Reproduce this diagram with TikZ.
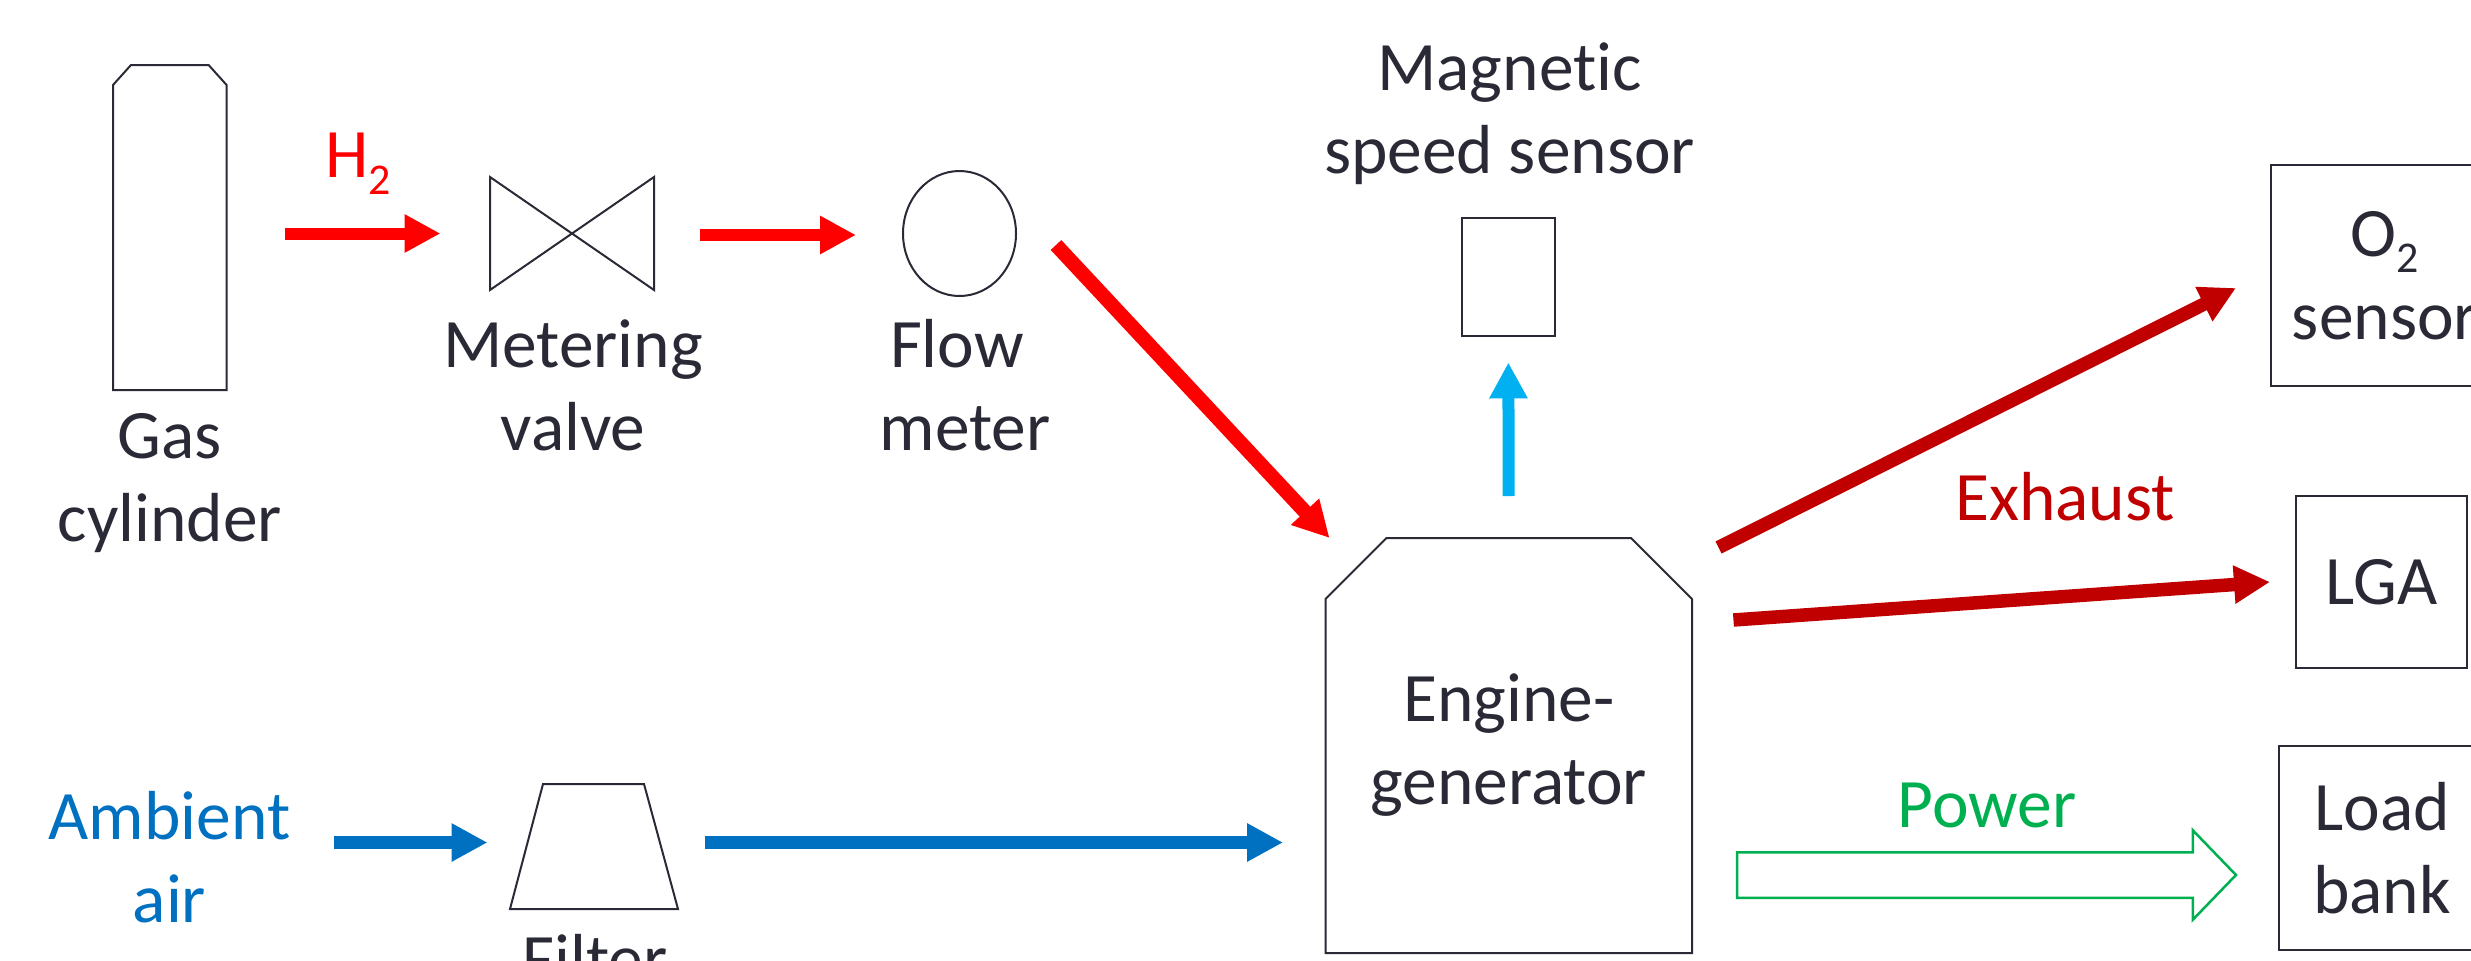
\documentclass[tikz,border=0pt]{standalone}
\usepackage{fontspec}
\setmainfont{Carlito}[Ligatures=CommonOff]
\usetikzlibrary{arrows.meta,shapes.geometric,shapes.arrows}
\definecolor{partcolor}{HTML}{2A2A36}
\definecolor{hydrogencolor}{HTML}{FF0000}
\definecolor{aircolor}{HTML}{0070C0}
\definecolor{exhaustcolor}{HTML}{C00000}
\definecolor{speedcolor}{HTML}{00B0F0}
\definecolor{powercolor}{HTML}{00B050}
\newcommand{\subtwo}{\raisebox{-0.165cm}{\fontsize{12.5}{15}\selectfont 2}}
\tikzset{
  parttext/.style={text=partcolor, inner sep=0pt, outer sep=0pt, align=center,
    font=\fontsize{19.75}{23.6}\selectfont},
  partbox/.style={parttext, draw=partcolor, line width=0.02cm},
  partline/.style={draw=partcolor, line width=0.02cm},
  flowtip/.style={-{Triangle[length=0.36cm,width=0.36cm]}},
  hydrogenline/.style={flowtip, draw=hydrogencolor, line width=0.12cm},
  airline/.style={flowtip, draw=aircolor, line width=0.125cm},
  exhaustline/.style={flowtip, draw=exhaustcolor, line width=0.135cm},
  speedline/.style={flowtip, draw=speedcolor, line width=0.12cm},
}
\begin{document}
\begin{tikzpicture}
                    \useasboundingbox (0,0) rectangle (24.710000,9.600000);
                    {\footnotesize

                    % Marking gas cylinder
                    \draw (1.698000,7.325000) node (cylinder) [parttext, minimum width=1.136cm, minimum height=3.250cm] {};%
                    \draw [partline] (cylinder.south west) -- ([yshift=-0.200cm]cylinder.north west) -- ([xshift=0.180cm]cylinder.north west) -- ([xshift=-0.180cm]cylinder.north east) -- ([yshift=-0.200cm]cylinder.north east) -- (cylinder.south east) -- cycle;%
                    \draw (1.700000,4.190000) node (cylinderlabel) [parttext, anchor=base] {Gas\\cylinder};%

                    % Marking hydrogen label
                    \draw (3.580000,7.825000) node (hydrogenlabel) [parttext, anchor=base, text=hydrogencolor] {H\subtwo};%

                    % Marking metering valve
                    \draw (5.720000,7.265000) node (valve) [parttext, minimum width=1.640cm, minimum height=1.130cm] {};%
                    \draw [partline] (valve.north west) -- (valve.south east) -- (valve.north east) -- (valve.south west) -- cycle;%
                    \draw (5.730000,5.100000) node (valvelabel) [parttext, anchor=base] {Metering\\valve};%

                    % Marking flow meter
                    \draw (9.595000,7.265000) node (flowmeter) [partbox, ellipse, minimum width=1.130cm, minimum height=1.250cm] {};%
                    \draw (9.650000,5.100000) node (flowlabel) [parttext, anchor=base] {Flow\hspace*{0.160cm}\\meter};%

                    % Marking speed sensor
                    \draw (15.083000,6.828000) node (speedsensor) [partbox, minimum width=0.925cm, minimum height=1.175cm] {};%
                    \draw (15.095000,7.870000) node (speedlabel) [parttext, anchor=base] {Magnetic\\speed sensor};%

                    % Marking engine
                    \draw (15.088000,2.145000) node (engine) [parttext, minimum width=3.665cm, minimum height=4.150cm] {Engine-\\generator};%
                    \draw [partline] (engine.south west) -- ([yshift=-0.610cm]engine.north west) -- ([xshift=0.610cm]engine.north west) -- ([xshift=-0.610cm]engine.north east) -- ([yshift=-0.610cm]engine.north east) -- (engine.south east) -- cycle;%

                    % Marking ambient air
                    \draw (1.695000,0.380000) node (ambient) [parttext, anchor=base, text=aircolor] {Ambient\\air};%

                    % Marking filter
                    \draw (5.940000,1.135000) node (filter) [parttext, minimum width=1.680cm, minimum height=1.250cm] {};%
                    \draw [partline] (filter.south west) -- ([xshift=0.330cm]filter.north west) -- ([xshift=-0.340cm]filter.north east) -- (filter.south east) -- cycle;%
                    \draw (5.950000,-0.220000) node (filterlabel) [parttext, anchor=base] {Filter};%

                    % Marking O2 sensor
                    \draw (23.850000,6.845000) node (oxygen) [partbox, minimum width=2.280cm, minimum height=2.210cm] {O\subtwo\\sensor};%

                    % Marking LGA
                    \draw (23.815000,3.780000) node (lga) [partbox, minimum width=1.710cm, minimum height=1.717cm] {LGA};%

                    % Marking load bank
                    \draw (23.820000,1.120000) node (loadbank) [partbox, minimum width=2.060cm, minimum height=2.043cm] {Load\\bank};%

                    % Marking exhaust label
                    \draw (20.650000,4.400000) node (exhaustlabel) [parttext, anchor=base, text=exhaustcolor] {Exhaust};%

                    % Marking power label
                    \draw (19.870000,1.330000) node (powerlabel) [parttext, anchor=base, text=powercolor] {Power};%

                    % Marking power arrow
                    \draw (19.755000,0.850000) node (powerarrow) [single arrow, draw=powercolor, line width=0.025cm, inner xsep=0pt, inner ysep=0.215cm, outer sep=0pt, minimum height=4.990cm, single arrow head extend=0.22cm, single arrow head indent=0cm, single arrow tip angle=92] {};%

                    % Drawing hydrogen line
                    \draw [hydrogenline, shorten <=0.584cm, shorten >=0.495cm] (cylinder.east |- valve.west) -- (valve.west);%
                    \draw [hydrogenline, shorten <=0.460cm, shorten >=0.470cm] ([yshift=-0.015cm]valve.east) -- ([yshift=-0.015cm]flowmeter.west);%
                    \draw [hydrogenline, line width=0.145cm] ([shift={(0.400,-0.115)}]flowmeter.east) -- ([xshift=0.040cm]engine.north west);%

                    % Drawing speed line
                    \draw [speedline, shorten <=0.420cm, shorten >=0.265cm] (engine.north) -- (speedsensor.south);%

                    % Drawing air line
                    \draw [airline, shorten <=0.440cm, shorten >=0.225cm] ([yshift=0.040cm]filter.west -| ambient.east) -- ([yshift=0.040cm]filter.west);%
                    \draw [airline, shorten <=0.270cm, shorten >=0.425cm] ([yshift=0.040cm]filter.east) -- ([yshift=0.040cm]filter.east -| engine.west);%

                    % Drawing exhaust line
                    \draw [exhaustline] ([shift={(0.265,-0.095)}]engine.north east) -- ([shift={(-0.350,-0.125)}]oxygen.west);%
                    \draw [exhaustline] ([shift={(0.414,-0.820)}]engine.north east) -- ([xshift=-0.260cm]lga.west);%
                    }
                    \end{tikzpicture}
\end{document}
